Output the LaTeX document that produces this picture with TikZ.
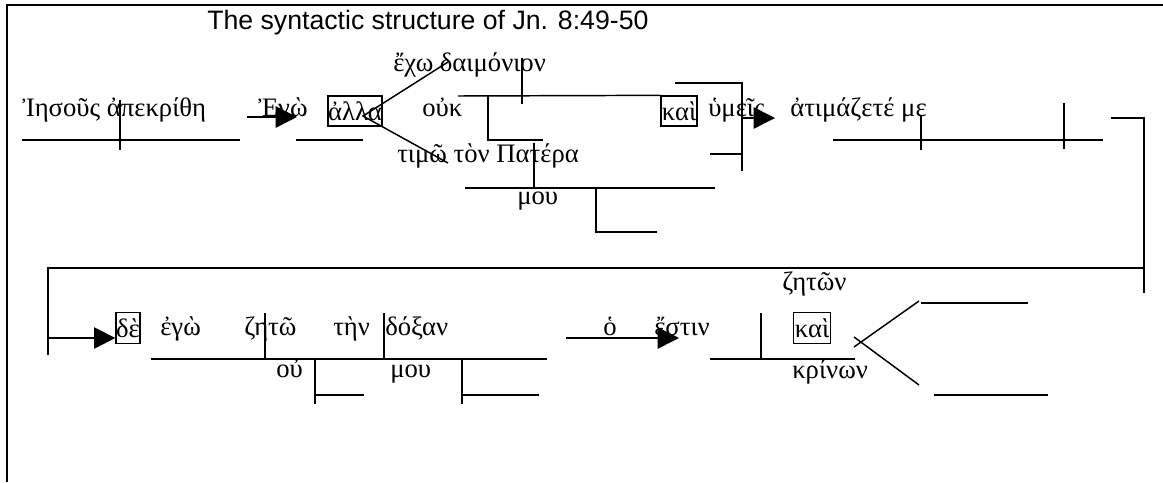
\documentclass[tikz,border=0pt]{standalone}
\usepackage{fontspec}
\setmainfont{Liberation Serif}
\newfontfamily\titlefont{Liberation Sans}
\usetikzlibrary{arrows.meta}
\begin{document}
\begin{tikzpicture}[x=0.75pt,y=-0.75pt,
  ln/.style={line width=1.1pt},
  frameline/.style={line width=2pt},
  gk/.style={inner sep=0pt, anchor=base west, font=\fontsize{20}{22}\selectfont},
  bx/.style={inner sep=0pt, draw, line width=1pt, font=\fontsize{20}{22}\selectfont},
  arr/.style={ln, -{Triangle[length=16pt,width=16pt]}},
]
\useasboundingbox (0,0) rectangle (1163,482);
\draw[frameline] (7,482) -- (7,5) -- (1163,5);
\node[inner sep=0pt, anchor=base west, font=\titlefont\fontsize{20}{22}\selectfont] (title) at (207,29) {The syntactic structure of Jn. 8:49-50};

% ---- row 1
\node[gk] (iesous) at (22,116) {Ἰησοῦς ἀπεκρίθη};
\draw[ln] (22,140) -- (240,140);
\draw[ln] (120,100) -- (120,150);
\node[gk] (ego1) at (258,116) {Ἐγὼ};
\draw[arr] (247,117) -- (297,117);
\draw[ln] (296,140) -- (363,140);
\node[bx, minimum width=40.5pt, minimum height=22.5pt] (alla) at (355,111) {ἀλλα};
\coordinate (f1) at (363,116);
\node[gk] (echo) at (393,71) {ἔχω δαιμόνιον};
\node[gk] (ouk) at (422,116) {οὐκ};
\node[gk] (timo) at (397,162) {τιμῶ τὸν Πατέρα};
\node[gk] (mou1) at (517,204) {μου};
\draw[ln] (448,62) -- (f1) -- (448,163);
\node[bx, minimum width=27pt, minimum height=22.5pt] (kai1) at (679,111) {καὶ};
\draw[ln] (458,96) -- (kai1.north west);
\draw[ln] (522,58) -- (522,104);
\draw[ln] (488,96) -- (488,140) -- (543,140);
\draw[ln] (534,143) -- (534,188);
\draw[ln] (465,188) -- (715,188);
\draw[ln] (596,188) -- (596,232) -- (657,232);
\node[gk] (humeis) at (708,116) {ὑμεῖς};
\draw[ln] (675,83) -- (742,83) -- (742,171);
\draw[ln] (710,154) -- (742,154);
\coordinate (a2s) at (742,118);
\draw[arr] (a2s) -- (775,118);
\node[gk] (atim) at (790,116) {ἀτιμάζετέ με};
\draw[ln] (833,140) -- (1103,140);
\draw[ln] (921,115) -- (921,150);
\draw[ln] (1064,103) -- (1064,149);
\coordinate (rb) at (1144,118);
\draw[ln] (1111,118) -- (rb) -- (1144,293);

% ---- row 2
\coordinate (lb) at (48,268);
\coordinate (lba) at (48,338);
\draw[ln] (1144,268) -- (lb) -- (48,355);
\node[bx, minimum width=18pt, minimum height=23pt] (de) at (128,328) {δὲ};
\draw[arr] (lba) -- (de.west |- lba);
\node[gk] (ego2) at (160,335) {ἐγὼ};
\node[gk] (zeto) at (244,335) {ζητῶ};
\node[gk] (ten) at (333,335) {τὴν};
\node[gk] (doxan) at (385,335) {δόξαν};
\draw[ln] (151,359) -- (547,359);
\draw[ln] (265,313) -- (265,359);
\draw[ln] (384,313) -- (384,359);
\node[gk] (ou) at (276,377) {οὐ};
\node[gk] (mou2) at (390,377) {μου};
\draw[ln] (315,359) -- (315,404);
\draw[ln] (315,395) -- (364,395);
\draw[ln] (462,359) -- (462,404);
\draw[ln] (462,395) -- (539,395);
\node[gk] (ho) at (603,335) {ὁ};
\node[gk] (estin) at (654,335) {ἔστιν};
\draw[arr] (566,338) -- (679,338);
\draw[ln] (761,313) -- (761,359);
\draw[ln] (710,359) -- (855,359);
\node[gk] (zeton) at (782,290) {ζητῶν};
\node[bx, minimum width=28pt, minimum height=23pt] (kai2) at (812,328) {καὶ};
\node[gk] (krinon) at (792,378) {κρίνων};
\draw[ln] (854,347) -- (919,301);
\draw[ln] (854,337) -- (919,385);
\draw[ln] (921,303) -- (1028,303);
\draw[ln] (934,395) -- (1048,395);
\end{tikzpicture}
\end{document}
